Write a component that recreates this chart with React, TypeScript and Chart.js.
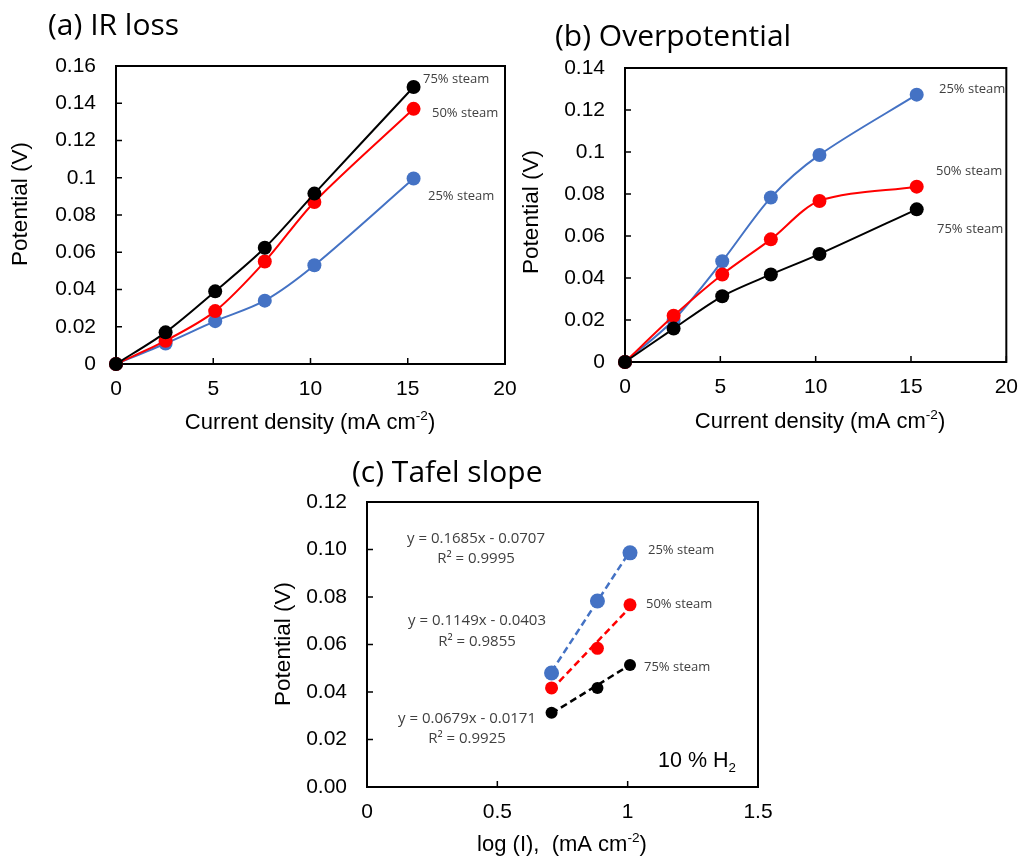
import React, { useEffect, useRef } from "react";
import { Chart, registerables } from "chart.js";

Chart.register(...registerables);

// ---------------- data ----------------
const currentDensity = [0, 2.55, 5.1, 7.65, 10.2, 15.3];
const irLoss25 = [0, 0.011, 0.023, 0.034, 0.053, 0.0996];
const irLoss50 = [0, 0.0125, 0.0284, 0.055, 0.087, 0.137];
const irLoss75 = [0, 0.017, 0.039, 0.0624, 0.0915, 0.1487];
const overpot25 = [0, 0.02, 0.048, 0.0783, 0.0986, 0.1273];
const overpot50 = [0, 0.022, 0.0417, 0.0584, 0.0767, 0.0835];
const overpot75 = [0, 0.0159, 0.0313, 0.0417, 0.0514, 0.0727];
const logCurrent = [0.708, 0.884, 1.009];
const tafel25 = [0.048, 0.0783, 0.0986];
const tafel50 = [0.0417, 0.0584, 0.0767];
const tafel75 = [0.0313, 0.0417, 0.0514];
const tafelSlopes = [0.1685, 0.1149, 0.0679];
const tafelIntercepts = [-0.0707, -0.0403, -0.0171];
const tafelR2 = ["0.9995", "0.9855", "0.9925"];
const seriesLabels = ["25% steam", "50% steam", "75% steam"];
const seriesColors = ["#4472C4", "#FF0000", "#000000"];
const panelTitles = ["(a) IR loss", "(b) Overpotential", "(c) Tafel slope"];
const yAxisTitle = "Potential (V)";
const xAxisTitleMain = "Current density (mA cm";
const xAxisTitleTafel = "log (I),  (mA cm";
const xAxisTitleSup = "-2";
const gasNote = "10 % H";
const gasNoteSub = "2";

// ---------------- helpers ----------------
const SANS = "'Liberation Sans', Arial, sans-serif";
const OPEN = "'Open Sans', sans-serif";
Chart.defaults.font.family = SANS;

type Seg = { t: string; k?: "sup" | "sub" };

function richText(
  ctx: CanvasRenderingContext2D,
  segs: Seg[],
  x: number,
  y: number,
  size: number,
  family: string,
  color: string,
  align: "left" | "center" = "left"
) {
  ctx.save();
  ctx.fillStyle = color;
  ctx.textBaseline = "alphabetic";
  ctx.textAlign = "left";
  const fs = (s: Seg) => (s.k ? size * 0.62 : size);
  const widths = segs.map((s) => {
    ctx.font = `${fs(s)}px ${family}`;
    return ctx.measureText(s.t).width;
  });
  const total = widths.reduce((a, b) => a + b, 0);
  let cx = align === "center" ? x - total / 2 : x;
  segs.forEach((s, i) => {
    ctx.font = `${fs(s)}px ${family}`;
    const dy = s.k === "sup" ? -size * 0.42 : s.k === "sub" ? size * 0.25 : 0;
    ctx.fillText(s.t, cx, y + dy);
    cx += widths[i];
  });
  ctx.restore();
}

function rotatedText(ctx: CanvasRenderingContext2D, text: string, cx: number, cy: number, size: number) {
  ctx.save();
  ctx.translate(cx, cy);
  ctx.rotate(-Math.PI / 2);
  ctx.font = `${size}px ${SANS}`;
  ctx.fillStyle = "#000";
  ctx.textAlign = "center";
  ctx.textBaseline = "middle";
  ctx.fillText(text, 0, 0);
  ctx.restore();
}

function makePlugin(id: string, offX: number, offY: number, draw: (ctx: CanvasRenderingContext2D) => void) {
  return {
    id,
    beforeDatasetsDraw(chart: any) {
      const { ctx, chartArea: a, scales } = chart;
      ctx.save();
      ctx.strokeStyle = "#000";
      ctx.lineWidth = 1.5;
      ctx.beginPath();
      scales.x.ticks.forEach((t: any) => {
        const px = scales.x.getPixelForValue(t.value);
        ctx.moveTo(px, a.bottom);
        ctx.lineTo(px, a.bottom - 6);
      });
      scales.y.ticks.forEach((t: any) => {
        const py = scales.y.getPixelForValue(t.value);
        ctx.moveTo(a.left, py);
        ctx.lineTo(a.left + 6, py);
      });
      ctx.stroke();
      ctx.lineWidth = 2;
      ctx.strokeRect(a.left, a.top, a.right - a.left, a.bottom - a.top);
      ctx.restore();
    },
    afterDraw(chart: any) {
      const ctx = chart.ctx as CanvasRenderingContext2D;
      ctx.save();
      ctx.translate(-offX, -offY);
      draw(ctx);
      ctx.restore();
    },
  };
}

function scalesCfg(
  xMax: number,
  xStep: number,
  yMax: number,
  yStep: number,
  yFmt: (v: number) => string,
  yWidth: number,
  xHeight: number
) {
  return {
    x: {
      type: "linear",
      min: 0,
      max: xMax,
      ticks: {
        stepSize: xStep,
        color: "#000",
        font: { size: 21, family: SANS },
        padding: 13,
        maxRotation: 0,
        autoSkip: false,
        callback: (v: any) => String(Math.round(Number(v) * 100) / 100),
      },
      grid: { display: false, drawTicks: false },
      border: { display: false },
      afterFit: (s: any) => {
        s.height = xHeight;
      },
    },
    y: {
      type: "linear",
      min: 0,
      max: yMax,
      ticks: {
        stepSize: yStep,
        color: "#000",
        font: { size: 21, family: SANS },
        padding: 20,
        autoSkip: false,
        callback: (v: any) => yFmt(Number(v)),
      },
      grid: { display: false, drawTicks: false },
      border: { display: false },
      afterFit: (s: any) => {
        s.width = yWidth;
      },
    },
  };
}

const fmtShort = (v: number) => String(Math.round(v * 100) / 100);
const fmtFixed = (v: number) => v.toFixed(2);

function lineSet(ys: number[], color: string, r: number) {
  return {
    data: currentDensity.map((x, i) => ({ x, y: ys[i] })),
    borderColor: color,
    backgroundColor: color,
    pointBackgroundColor: color,
    pointBorderWidth: 0,
    pointRadius: r,
    borderWidth: 2,
    showLine: true,
    tension: 0.3,
    clip: false,
  };
}

function baseOptions(padTop: number, padRight: number, scales: any) {
  return {
    responsive: false,
    animation: false,
    events: [],
    layout: { padding: { top: padTop, right: padRight, left: 0, bottom: 0 } },
    plugins: { legend: { display: false }, tooltip: { enabled: false }, title: { display: false } },
    scales,
  };
}

// canvas placements (page coordinates)
const A = { left: 0, top: 0, w: 530, h: 440 };
const B = { left: 510, top: 0, w: 521, h: 440 };
const C = { left: 250, top: 440, w: 540, h: 419 };

function configA(): any {
  return {
    type: "scatter",
    data: {
      datasets: [
        lineSet(irLoss75, seriesColors[2], 7),
        lineSet(irLoss50, seriesColors[1], 7),
        lineSet(irLoss25, seriesColors[0], 7),
      ],
    },
    options: baseOptions(66, 25, scalesCfg(20, 5, 0.16, 0.02, fmtShort, 116, 76)),
    plugins: [
      makePlugin("decoA", A.left, A.top, (ctx) => {
        richText(ctx, [{ t: panelTitles[0] }], 48, 35, 30, OPEN, "#000");
        rotatedText(ctx, yAxisTitle, 21, 204, 22.5);
        richText(ctx, [{ t: xAxisTitleMain }, { t: xAxisTitleSup, k: "sup" }, { t: ")" }], 310, 429, 22, SANS, "#000", "center");
        richText(ctx, [{ t: seriesLabels[2] }], 423, 83, 13, OPEN, "#404040");
        richText(ctx, [{ t: seriesLabels[1] }], 432, 117, 13, OPEN, "#404040");
        richText(ctx, [{ t: seriesLabels[0] }], 428, 200, 13, OPEN, "#404040");
      }),
    ],
  };
}

function configB(): any {
  return {
    type: "scatter",
    data: {
      datasets: [
        lineSet(overpot75, seriesColors[2], 7),
        lineSet(overpot50, seriesColors[1], 7),
        lineSet(overpot25, seriesColors[0], 7),
      ],
    },
    options: baseOptions(68, 14, scalesCfg(20, 5, 0.14, 0.02, fmtShort, 115, 78)),
    plugins: [
      makePlugin("decoB", B.left, B.top, (ctx) => {
        richText(ctx, [{ t: panelTitles[1] }], 555, 46, 30, OPEN, "#000");
        rotatedText(ctx, yAxisTitle, 532, 212, 22.5);
        richText(ctx, [{ t: xAxisTitleMain }, { t: xAxisTitleSup, k: "sup" }, { t: ")" }], 820, 428, 22, SANS, "#000", "center");
        richText(ctx, [{ t: seriesLabels[0] }], 939, 93, 13, OPEN, "#404040");
        richText(ctx, [{ t: seriesLabels[1] }], 936, 175, 13, OPEN, "#404040");
        richText(ctx, [{ t: seriesLabels[2] }], 937, 233, 13, OPEN, "#404040");
      }),
    ],
  };
}

function tafelPoints(ys: number[], color: string, r: number) {
  return {
    data: logCurrent.map((x, i) => ({ x, y: ys[i] })),
    backgroundColor: color,
    pointBackgroundColor: color,
    pointBorderWidth: 0,
    pointRadius: r,
    showLine: false,
    clip: false,
  };
}

function tafelTrend(i: number, color: string) {
  const xs = [logCurrent[0], logCurrent[logCurrent.length - 1]];
  return {
    data: xs.map((x) => ({ x, y: tafelSlopes[i] * x + tafelIntercepts[i] })),
    borderColor: color,
    borderWidth: 2.5,
    borderDash: [7, 4],
    pointRadius: 0,
    showLine: true,
    tension: 0,
    clip: false,
  };
}

function eqText(i: number) {
  const b = tafelIntercepts[i];
  return `y = ${tafelSlopes[i].toFixed(4)}x ${b < 0 ? "-" : "+"} ${Math.abs(b).toFixed(4)}`;
}

function configC(): any {
  return {
    type: "scatter",
    data: {
      datasets: [
        tafelPoints(tafel25, seriesColors[0], 7.5),
        tafelPoints(tafel50, seriesColors[1], 6.5),
        tafelPoints(tafel75, seriesColors[2], 6),
        tafelTrend(0, seriesColors[0]),
        tafelTrend(1, seriesColors[1]),
        tafelTrend(2, seriesColors[2]),
      ],
    },
    options: baseOptions(62, 32, scalesCfg(1.5, 0.5, 0.12, 0.02, fmtFixed, 117, 72)),
    plugins: [
      makePlugin("decoC", C.left, C.top, (ctx) => {
        richText(ctx, [{ t: panelTitles[2] }], 352, 482, 30, OPEN, "#000");
        rotatedText(ctx, yAxisTitle, 284, 644, 22.5);
        richText(ctx, [{ t: xAxisTitleTafel }, { t: xAxisTitleSup, k: "sup" }, { t: ")" }], 562, 851, 22, SANS, "#000", "center");
        richText(ctx, [{ t: seriesLabels[0] }], 648, 554, 13, OPEN, "#404040");
        richText(ctx, [{ t: seriesLabels[1] }], 646, 608, 13, OPEN, "#404040");
        richText(ctx, [{ t: seriesLabels[2] }], 644, 671, 13, OPEN, "#404040");
        const eqPos = [
          [476, 543, 563],
          [477, 625, 646],
          [467, 723, 743],
        ];
        eqPos.forEach(([cx, y1, y2], i) => {
          richText(ctx, [{ t: eqText(i) }], cx, y1, 15, OPEN, "#404040", "center");
          richText(ctx, [{ t: `R² = ${tafelR2[i]}` }], cx, y2, 15, OPEN, "#404040", "center");
        });
        richText(ctx, [{ t: gasNote }, { t: gasNoteSub, k: "sub" }], 658, 767, 21.5, SANS, "#000");
      }),
    ],
  };
}

export default function App() {
  const ra = useRef<HTMLCanvasElement>(null);
  const rb = useRef<HTMLCanvasElement>(null);
  const rc = useRef<HTMLCanvasElement>(null);

  useEffect(() => {
    const charts: Chart[] = [];
    if (ra.current) charts.push(new Chart(ra.current, configA()));
    if (rb.current) charts.push(new Chart(rb.current, configB()));
    if (rc.current) charts.push(new Chart(rc.current, configC()));
    return () => charts.forEach((c) => c.destroy());
  }, []);

  const cs = (p: { left: number; top: number; w: number; h: number }) => ({
    position: "absolute" as const,
    left: p.left,
    top: p.top,
    width: p.w,
    height: p.h,
  });

  return (
    <div style={{ position: "absolute", left: 0, top: 0, width: 1031, height: 859, background: "#fff", overflow: "hidden" }}>
      <canvas ref={ra} width={A.w} height={A.h} style={cs(A)} />
      <canvas ref={rb} width={B.w} height={B.h} style={cs(B)} />
      <canvas ref={rc} width={C.w} height={C.h} style={cs(C)} />
    </div>
  );
}
